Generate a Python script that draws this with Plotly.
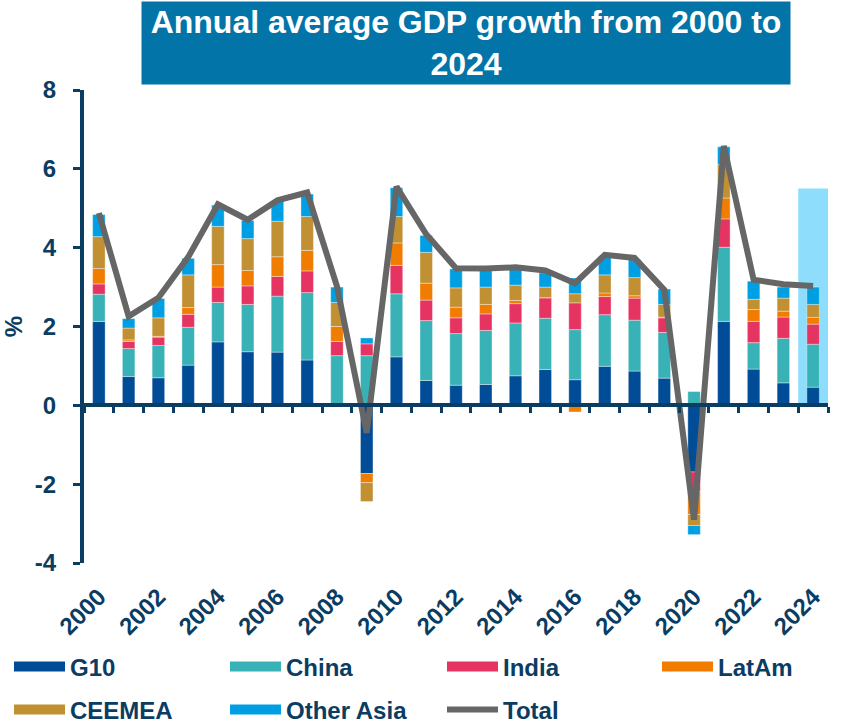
import plotly.graph_objects as go

years = list(range(2000, 2025))
tick_years = list(range(2000, 2025, 2))
y_ticks = list(range(-4, 9, 2))
y_ticktext = [str(v) for v in y_ticks]

g10 = [2.13, 0.73, 0.70, 1.02, 1.61, 1.36, 1.35, 1.15, 0.00, -1.73, 1.23, 0.63, 0.51,
       0.53, 0.75, 0.91, 0.65, 0.99, 0.87, 0.69, -1.69, 2.13, 0.92, 0.57, 0.46]
china = [0.69, 0.71, 0.82, 0.96, 1.00, 1.20, 1.42, 1.71, 1.26, 1.26, 1.60, 1.52, 1.31,
         1.37, 1.34, 1.30, 1.27, 1.31, 1.29, 1.16, 0.35, 1.88, 0.67, 1.13, 1.09]
india = [0.26, 0.18, 0.21, 0.33, 0.39, 0.47, 0.50, 0.55, 0.36, 0.30, 0.72, 0.52, 0.40,
         0.42, 0.49, 0.52, 0.68, 0.46, 0.56, 0.37, -0.49, 0.72, 0.54, 0.54, 0.51]
latam = [0.39, 0.04, 0.02, 0.17, 0.57, 0.39, 0.50, 0.52, 0.38, -0.23, 0.57, 0.43, 0.27,
         0.24, 0.08, 0.00, -0.17, 0.09, 0.06, 0.02, -0.59, 0.53, 0.30, 0.15, 0.17]
ceemea = [0.81, 0.30, 0.47, 0.83, 0.97, 0.81, 0.90, 0.86, 0.61, -0.48, 0.67, 0.78, 0.49,
          0.44, 0.39, 0.27, 0.23, 0.46, 0.46, 0.32, -0.28, 0.85, 0.26, 0.33, 0.33]
other_asia = [0.56, 0.24, 0.49, 0.42, 0.54, 0.46, 0.51, 0.57, 0.39, 0.15, 0.73, 0.43, 0.48,
              0.48, 0.50, 0.36, 0.40, 0.47, 0.46, 0.39, -0.23, 0.45, 0.46, 0.28, 0.44]
total = [4.88, 2.26, 2.73, 3.76, 5.10, 4.71, 5.20, 5.40, 3.02, -0.70, 5.55, 4.34, 3.48,
         3.47, 3.50, 3.42, 3.10, 3.82, 3.74, 2.93, -2.90, 6.58, 3.19, 3.07, 3.03]

highlight_year = 2024
highlight_top = 5.5

series = [
    ("G10", g10, "#004C97"),
    ("China", china, "#38B2B6"),
    ("India", india, "#E63462"),
    ("LatAm", latam, "#F07D00"),
    ("CEEMEA", ceemea, "#C19033"),
    ("Other Asia", other_asia, "#009FE3"),
]
total_color = "#666666"
navy = "#0B3C61"
font_family = "Arial, Liberation Sans, sans-serif"

W, H = 841, 724
# legend slot positions (pixels): swatch left, row centre
legend_slots = [(14, 667), (230, 667), (447, 667), (662, 667),
                (14, 710), (230, 710), (447, 710)]

fig = go.Figure()
for name, vals, col in series:
    fig.add_trace(go.Bar(
        x=years, y=vals, name=name, width=0.42, showlegend=False,
        marker=dict(color=col, line=dict(color="rgba(255,255,255,0.6)", width=0.6)),
    ))
fig.add_trace(go.Scatter(
    x=years, y=total, mode="lines", name="Total", showlegend=False,
    line=dict(color=total_color, width=6),
))

legend_entries = [(name, col, 14) for name, _, col in series] + [("Total", total_color, 6)]
legend_layouts = {}
for i, (name, col, lw) in enumerate(legend_entries):
    key = "legend" if i == 0 else f"legend{i + 1}"
    fig.add_trace(go.Scatter(
        x=[None], y=[None], mode="lines", name=name,
        line=dict(color=col, width=lw), legend=key,
    ))
    px, py = legend_slots[i]
    legend_layouts[key] = dict(
        xref="container", yref="container",
        x=(px - 5) / W, xanchor="left", y=1 - py / H, yanchor="middle",
        itemwidth=51, orientation="h",
        font=dict(family=font_family, size=24, color=navy, weight="bold"),
        bgcolor="rgba(0,0,0,0)",
    )

# zero axis carrier
fig.add_trace(go.Scatter(x=[None], y=[None], xaxis="x2", showlegend=False, hoverinfo="skip"))

fig.add_shape(
    type="rect", xref="x", yref="y",
    x0=highlight_year - 0.5, x1=highlight_year + 0.5, y0=0, y1=highlight_top,
    fillcolor="#8FDDFC", line=dict(width=0), layer="below",
)

xr = [years[0] - 0.5, years[-1] + 0.5]
tick_font = dict(family=font_family, size=24, color=navy, weight="bold")

fig.update_layout(
    width=W, height=H,
    margin=dict(l=84, r=13, t=90, b=161, autoexpand=False),
    plot_bgcolor="white", paper_bgcolor="white",
    barmode="relative",
    xaxis=dict(
        range=xr, tickmode="array", tickvals=tick_years,
        ticktext=[str(y) for y in tick_years], tickangle=-45,
        ticks="", showline=False, showgrid=False, zeroline=False,
        tickfont=tick_font, ticklabelstandoff=14, automargin=False,
    ),
    xaxis2=dict(
        range=xr, overlaying="x", anchor="free", position=1/3,
        tickmode="array", tickvals=[y + 0.5 for y in [years[0] - 1] + years],
        showticklabels=False, ticks="outside", ticklen=6, tickwidth=3,
        tickcolor=navy, showline=True, linewidth=4, linecolor=navy,
        showgrid=False, zeroline=False, automargin=False,
    ),
    yaxis=dict(
        range=[-4, 8], tickmode="array", tickvals=y_ticks, ticktext=y_ticktext,
        ticks="outside", ticklen=7, tickwidth=3, tickcolor=navy,
        showline=True, linewidth=4, linecolor=navy, automargin=False,
        showgrid=False, zeroline=False, tickfont=tick_font, ticklabelstandoff=12,
        title=dict(text="%", font=dict(family=font_family, size=24, color=navy, weight="bold"),
                   standoff=17),
    ),
    annotations=[dict(
        text="Annual average GDP growth from 2000 to<br>2024",
        xref="paper", yref="paper", x=(466 - 84) / 744, y=563.3 / 473.8,
        xanchor="center", yanchor="top", showarrow=False,
        width=648, height=82, borderpad=0, bgcolor="#0274A8",
        font=dict(family=font_family, size=32, color="white", weight="bold"),
    )],
    **legend_layouts,
)

fig.write_html("out.html", config={"displayModeBar": False},
               post_script="document.body.style.margin='0px';")
